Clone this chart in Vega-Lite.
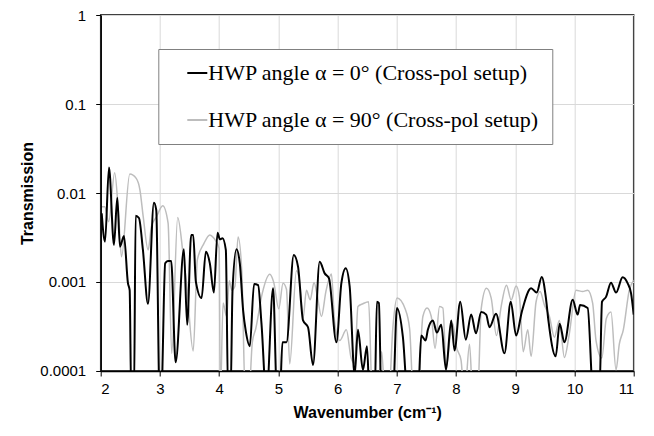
{
  "$schema": "https://vega.github.io/schema/vega-lite/v6.json",
  "width": 533,
  "height": 356,
  "autosize": {"type": "none"},
  "padding": {"left": 100.7, "top": 15, "right": 20, "bottom": 65},
  "background": "white",
  "config": {
    "font": "Liberation Sans",
    "view": {"stroke": "black", "strokeWidth": 1.5},
    "axis": {
      "labelFont": "Liberation Sans",
      "labelFontSize": 15,
      "labelColor": "black",
      "titleFont": "Liberation Sans",
      "titleFontSize": 16,
      "titleFontWeight": "bold",
      "titleColor": "black",
      "domainColor": "black",
      "domainWidth": 1.5,
      "tickColor": "black",
      "tickSize": 5,
      "tickWidth": 1,
      "gridColor": "#d9d9d9",
      "gridWidth": 1
    }
  },
  "data": {
    "values": [
      {"s": "0", "w": 2.017, "t": 0.0059},
      {"s": "0", "w": 2.073, "t": 0.00284},
      {"s": "0", "w": 2.14, "t": 0.0194},
      {"s": "0", "w": 2.224, "t": 0.00261},
      {"s": "0", "w": 2.28, "t": 0.00885},
      {"s": "0", "w": 2.325, "t": 0.00249},
      {"s": "0", "w": 2.393, "t": 0.00329},
      {"s": "0", "w": 2.46, "t": 0.00097},
      {"s": "0", "w": 2.489, "t": 0.00081},
      {"s": "0", "w": 2.516, "t": 0.00005},
      {"s": "0", "w": 2.562, "t": 0.00005},
      {"s": "0", "w": 2.59, "t": 0.00556},
      {"s": "0", "w": 2.646, "t": 0.00524},
      {"s": "0", "w": 2.713, "t": 0.00229},
      {"s": "0", "w": 2.798, "t": 0.00057},
      {"s": "0", "w": 2.899, "t": 0.00778},
      {"s": "0", "w": 2.938, "t": 0.00644},
      {"s": "0", "w": 2.995, "t": 0.00005},
      {"s": "0", "w": 3.022, "t": 0.00005},
      {"s": "0", "w": 3.089, "t": 0.00162},
      {"s": "0", "w": 3.135, "t": 0.00172},
      {"s": "0", "w": 3.19, "t": 0.00172},
      {"s": "0", "w": 3.265, "t": 0.000125},
      {"s": "0", "w": 3.405, "t": 0.00233},
      {"s": "0", "w": 3.46, "t": 0.00033},
      {"s": "0", "w": 3.528, "t": 0.00338},
      {"s": "0", "w": 3.562, "t": 0.00338},
      {"s": "0", "w": 3.607, "t": 0.00101},
      {"s": "0", "w": 3.703, "t": 0.00066},
      {"s": "0", "w": 3.776, "t": 0.00219},
      {"s": "0", "w": 3.843, "t": 0.00162},
      {"s": "0", "w": 3.911, "t": 0.00076},
      {"s": "0", "w": 3.973, "t": 0.00358},
      {"s": "0", "w": 4.012, "t": 0.00302},
      {"s": "0", "w": 4.057, "t": 0.0031},
      {"s": "0", "w": 4.113, "t": 0.00229},
      {"s": "0", "w": 4.152, "t": 0.00005},
      {"s": "0", "w": 4.192, "t": 0.00005},
      {"s": "0", "w": 4.226, "t": 0.00081},
      {"s": "0", "w": 4.293, "t": 0.00233},
      {"s": "0", "w": 4.349, "t": 0.00162},
      {"s": "0", "w": 4.405, "t": 0.00048},
      {"s": "0", "w": 4.45, "t": 0.00028},
      {"s": "0", "w": 4.518, "t": 0.00019},
      {"s": "0", "w": 4.59, "t": 0.00095},
      {"s": "0", "w": 4.658, "t": 0.00092},
      {"s": "0", "w": 4.715, "t": 0.00034},
      {"s": "0", "w": 4.799, "t": 0.00005},
      {"s": "0", "w": 4.911, "t": 0.00085},
      {"s": "0", "w": 4.978, "t": 0.00005},
      {"s": "0", "w": 5.024, "t": 0.00005},
      {"s": "0", "w": 5.069, "t": 0.00021},
      {"s": "0", "w": 5.137, "t": 0.00021},
      {"s": "0", "w": 5.26, "t": 0.00201},
      {"s": "0", "w": 5.332, "t": 0.00149},
      {"s": "0", "w": 5.417, "t": 0.00037},
      {"s": "0", "w": 5.501, "t": 0.00031},
      {"s": "0", "w": 5.585, "t": 0.000117},
      {"s": "0", "w": 5.698, "t": 0.00169},
      {"s": "0", "w": 5.782, "t": 0.00125},
      {"s": "0", "w": 5.855, "t": 0.0011},
      {"s": "0", "w": 5.98, "t": 0.00021},
      {"s": "0", "w": 6.064, "t": 0.00097},
      {"s": "0", "w": 6.137, "t": 0.00143},
      {"s": "0", "w": 6.204, "t": 0.00089},
      {"s": "0", "w": 6.288, "t": 0.00009},
      {"s": "0", "w": 6.344, "t": 0.00029},
      {"s": "0", "w": 6.428, "t": 0.000103},
      {"s": "0", "w": 6.496, "t": 0.00019},
      {"s": "0", "w": 6.541, "t": 0.00005},
      {"s": "0", "w": 6.626, "t": 0.00005},
      {"s": "0", "w": 6.664, "t": 0.0006},
      {"s": "0", "w": 6.698, "t": 0.00058},
      {"s": "0", "w": 6.739, "t": 0.00005},
      {"s": "0", "w": 6.934, "t": 0.00005},
      {"s": "0", "w": 7.002, "t": 0.00051},
      {"s": "0", "w": 7.103, "t": 0.00024},
      {"s": "0", "w": 7.187, "t": 0.00005},
      {"s": "0", "w": 7.356, "t": 0.00005},
      {"s": "0", "w": 7.413, "t": 0.00025},
      {"s": "0", "w": 7.486, "t": 0.00022},
      {"s": "0", "w": 7.524, "t": 0.00029},
      {"s": "0", "w": 7.609, "t": 0.00037},
      {"s": "0", "w": 7.676, "t": 0.00027},
      {"s": "0", "w": 7.75, "t": 0.00033},
      {"s": "0", "w": 7.831, "t": 0.000103},
      {"s": "0", "w": 7.919, "t": 0.00037},
      {"s": "0", "w": 7.975, "t": 0.00017},
      {"s": "0", "w": 8.071, "t": 0.0006},
      {"s": "0", "w": 8.165, "t": 0.000225},
      {"s": "0", "w": 8.256, "t": 0.00043},
      {"s": "0", "w": 8.337, "t": 0.000265},
      {"s": "0", "w": 8.425, "t": 0.00046},
      {"s": "0", "w": 8.509, "t": 0.00043},
      {"s": "0", "w": 8.565, "t": 0.00031},
      {"s": "0", "w": 8.675, "t": 0.00044},
      {"s": "0", "w": 8.818, "t": 0.000158},
      {"s": "0", "w": 8.924, "t": 0.0006},
      {"s": "0", "w": 9.015, "t": 0.00025},
      {"s": "0", "w": 9.113, "t": 0.00047},
      {"s": "0", "w": 9.268, "t": 0.00085},
      {"s": "0", "w": 9.363, "t": 0.00076},
      {"s": "0", "w": 9.447, "t": 0.00114},
      {"s": "0", "w": 9.518, "t": 0.00066},
      {"s": "0", "w": 9.56, "t": 0.00037},
      {"s": "0", "w": 9.683, "t": 0.000146},
      {"s": "0", "w": 9.75, "t": 0.00034},
      {"s": "0", "w": 9.83, "t": 0.00021},
      {"s": "0", "w": 9.97, "t": 0.00063},
      {"s": "0", "w": 10.054, "t": 0.00043},
      {"s": "0", "w": 10.094, "t": 0.00055},
      {"s": "0", "w": 10.223, "t": 0.00051},
      {"s": "0", "w": 10.319, "t": 0.00005},
      {"s": "0", "w": 10.42, "t": 0.00005},
      {"s": "0", "w": 10.465, "t": 0.0006},
      {"s": "0", "w": 10.533, "t": 0.00068},
      {"s": "0", "w": 10.617, "t": 0.00098},
      {"s": "0", "w": 10.702, "t": 0.00076},
      {"s": "0", "w": 10.813, "t": 0.00113},
      {"s": "0", "w": 10.897, "t": 0.00097},
      {"s": "0", "w": 10.955, "t": 0.00075},
      {"s": "0", "w": 11.0, "t": 0.00043},
      {"s": "90", "w": 2.022, "t": 0.00702},
      {"s": "90", "w": 2.067, "t": 0.00702},
      {"s": "90", "w": 2.135, "t": 0.00476},
      {"s": "90", "w": 2.236, "t": 0.0169},
      {"s": "90", "w": 2.304, "t": 0.00542},
      {"s": "90", "w": 2.351, "t": 0.00192},
      {"s": "90", "w": 2.491, "t": 0.0163},
      {"s": "90", "w": 2.6, "t": 0.0146},
      {"s": "90", "w": 2.663, "t": 0.0108},
      {"s": "90", "w": 2.718, "t": 0.00542},
      {"s": "90", "w": 2.801, "t": 0.00229},
      {"s": "90", "w": 2.857, "t": 0.0042},
      {"s": "90", "w": 2.944, "t": 0.00542},
      {"s": "90", "w": 3.047, "t": 0.0072},
      {"s": "90", "w": 3.138, "t": 0.0046},
      {"s": "90", "w": 3.199, "t": 0.000158},
      {"s": "90", "w": 3.3, "t": 0.00531},
      {"s": "90", "w": 3.393, "t": 0.00201},
      {"s": "90", "w": 3.45, "t": 0.00097},
      {"s": "90", "w": 3.562, "t": 0.000168},
      {"s": "90", "w": 3.632, "t": 0.00177},
      {"s": "90", "w": 3.742, "t": 0.0027},
      {"s": "90", "w": 3.843, "t": 0.00338},
      {"s": "90", "w": 3.906, "t": 0.00314},
      {"s": "90", "w": 4.0, "t": 0.00239},
      {"s": "90", "w": 4.02, "t": 0.00005},
      {"s": "90", "w": 4.067, "t": 0.00058},
      {"s": "90", "w": 4.126, "t": 0.00041},
      {"s": "90", "w": 4.172, "t": 0.00103},
      {"s": "90", "w": 4.214, "t": 0.00081},
      {"s": "90", "w": 4.265, "t": 0.00089},
      {"s": "90", "w": 4.32, "t": 0.0032},
      {"s": "90", "w": 4.383, "t": 0.00131},
      {"s": "90", "w": 4.442, "t": 0.00005},
      {"s": "90", "w": 4.501, "t": 0.00005},
      {"s": "90", "w": 4.56, "t": 0.00021},
      {"s": "90", "w": 4.619, "t": 0.0003},
      {"s": "90", "w": 4.729, "t": 0.00075},
      {"s": "90", "w": 4.855, "t": 0.00122},
      {"s": "90", "w": 4.922, "t": 0.00099},
      {"s": "90", "w": 5.007, "t": 0.0005},
      {"s": "90", "w": 5.079, "t": 0.00097},
      {"s": "90", "w": 5.137, "t": 0.00083},
      {"s": "90", "w": 5.192, "t": 0.00012},
      {"s": "90", "w": 5.305, "t": 0.00134},
      {"s": "90", "w": 5.369, "t": 0.00088},
      {"s": "90", "w": 5.417, "t": 0.00039},
      {"s": "90", "w": 5.474, "t": 0.00081},
      {"s": "90", "w": 5.538, "t": 0.00063},
      {"s": "90", "w": 5.602, "t": 0.00099},
      {"s": "90", "w": 5.656, "t": 0.00071},
      {"s": "90", "w": 5.727, "t": 0.00041},
      {"s": "90", "w": 5.804, "t": 0.00079},
      {"s": "90", "w": 5.896, "t": 0.00123},
      {"s": "90", "w": 5.951, "t": 0.00035},
      {"s": "90", "w": 6.036, "t": 0.00022},
      {"s": "90", "w": 6.148, "t": 0.00029},
      {"s": "90", "w": 6.229, "t": 0.00014},
      {"s": "90", "w": 6.288, "t": 0.000122},
      {"s": "90", "w": 6.344, "t": 0.00053},
      {"s": "90", "w": 6.428, "t": 0.00057},
      {"s": "90", "w": 6.524, "t": 0.0006},
      {"s": "90", "w": 6.587, "t": 0.00005},
      {"s": "90", "w": 6.676, "t": 0.00005},
      {"s": "90", "w": 6.744, "t": 0.000165},
      {"s": "90", "w": 6.803, "t": 0.00005},
      {"s": "90", "w": 6.862, "t": 0.00005},
      {"s": "90", "w": 6.934, "t": 0.00031},
      {"s": "90", "w": 7.005, "t": 0.00066},
      {"s": "90", "w": 7.14, "t": 0.0005},
      {"s": "90", "w": 7.216, "t": 0.0003},
      {"s": "90", "w": 7.283, "t": 0.00005},
      {"s": "90", "w": 7.351, "t": 0.00005},
      {"s": "90", "w": 7.44, "t": 0.00041},
      {"s": "90", "w": 7.511, "t": 0.00051},
      {"s": "90", "w": 7.582, "t": 0.00041},
      {"s": "90", "w": 7.646, "t": 0.00018},
      {"s": "90", "w": 7.722, "t": 0.00053},
      {"s": "90", "w": 7.778, "t": 0.00051},
      {"s": "90", "w": 7.835, "t": 0.00011},
      {"s": "90", "w": 7.899, "t": 0.00024},
      {"s": "90", "w": 7.946, "t": 0.00034},
      {"s": "90", "w": 8.003, "t": 0.00019},
      {"s": "90", "w": 8.084, "t": 0.000133},
      {"s": "90", "w": 8.143, "t": 0.00005},
      {"s": "90", "w": 8.228, "t": 0.0002},
      {"s": "90", "w": 8.283, "t": 0.00005},
      {"s": "90", "w": 8.363, "t": 0.00005},
      {"s": "90", "w": 8.425, "t": 0.0005},
      {"s": "90", "w": 8.514, "t": 0.00085},
      {"s": "90", "w": 8.594, "t": 0.00066},
      {"s": "90", "w": 8.683, "t": 0.00025},
      {"s": "90", "w": 8.762, "t": 0.00053},
      {"s": "90", "w": 8.852, "t": 0.00092},
      {"s": "90", "w": 8.931, "t": 0.00063},
      {"s": "90", "w": 9.015, "t": 0.0009},
      {"s": "90", "w": 9.071, "t": 0.00068},
      {"s": "90", "w": 9.135, "t": 0.000165},
      {"s": "90", "w": 9.211, "t": 0.00029},
      {"s": "90", "w": 9.268, "t": 0.000146},
      {"s": "90", "w": 9.352, "t": 0.0006},
      {"s": "90", "w": 9.42, "t": 0.00078},
      {"s": "90", "w": 9.492, "t": 0.00055},
      {"s": "90", "w": 9.577, "t": 0.00041},
      {"s": "90", "w": 9.661, "t": 0.00024},
      {"s": "90", "w": 9.745, "t": 0.00037},
      {"s": "90", "w": 9.83, "t": 0.000142},
      {"s": "90", "w": 9.914, "t": 0.000265},
      {"s": "90", "w": 10.027, "t": 0.00081},
      {"s": "90", "w": 10.138, "t": 0.00078},
      {"s": "90", "w": 10.223, "t": 0.00081},
      {"s": "90", "w": 10.307, "t": 0.00058},
      {"s": "90", "w": 10.364, "t": 0.00022},
      {"s": "90", "w": 10.462, "t": 0.00014},
      {"s": "90", "w": 10.538, "t": 0.00039},
      {"s": "90", "w": 10.617, "t": 0.00046},
      {"s": "90", "w": 10.702, "t": 0.000103},
      {"s": "90", "w": 10.757, "t": 0.0002},
      {"s": "90", "w": 10.825, "t": 0.00029},
      {"s": "90", "w": 10.926, "t": 0.00081},
      {"s": "90", "w": 11.0, "t": 0.00105}
    ]
  },
  "encoding": {
    "x": {
      "field": "w",
      "type": "quantitative",
      "scale": {"domain": [2, 11], "nice": false, "zero": false},
      "axis": {
        "values": [2, 3, 4, 5, 6, 7, 8, 9, 10, 11],
        "title": "Wavenumber  (cm⁻¹)",
        "labelPadding": 6,
        "titlePadding": 8
      }
    },
    "y": {
      "field": "t",
      "type": "quantitative",
      "scale": {"type": "log", "domain": [0.0001, 1], "nice": false},
      "axis": {
        "values": [0.0001, 0.001, 0.01, 0.1, 1],
        "format": "~g",
        "title": "Transmission",
        "labelPadding": 10,
        "titlePadding": 4
      }
    },
    "color": {
      "field": "s",
      "type": "nominal",
      "scale": {"domain": ["0", "90"], "range": ["black", "#bdbdbd"]},
      "legend": {
        "orient": "none",
        "legendX": 57.6,
        "legendY": 34,
        "title": null,
        "labelExpr": "'HWP angle α = ' + datum.label + '° (Cross-pol setup)'",
        "labelFont": "Liberation Serif",
        "labelFontSize": 22,
        "labelColor": "black",
        "labelOffset": 0,
        "labelLimit": 0,
        "symbolType": "stroke",
        "symbolSize": 400,
        "symbolStrokeWidth": 2,
        "symbolOffset": 15,
        "rowPadding": 25,
        "padding": 13,
        "strokeColor": "#7f7f7f",
        "fillColor": "white"
      }
    }
  },
  "layer": [
    {
      "transform": [{"filter": "datum.s === '90'"}],
      "mark": {"type": "line", "clip": true, "interpolate": "monotone", "strokeWidth": 1.5}
    },
    {
      "transform": [{"filter": "datum.s === '0'"}],
      "mark": {"type": "line", "clip": true, "interpolate": "monotone", "strokeWidth": 2}
    }
  ]
}
